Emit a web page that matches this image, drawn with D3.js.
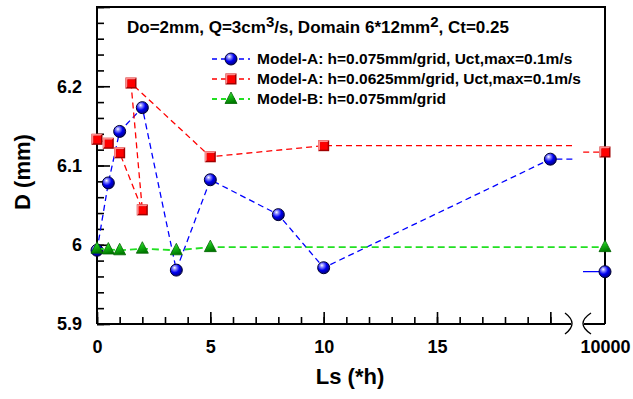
<!DOCTYPE html>
<html><head><meta charset="utf-8">
<script src="https://cdn.jsdelivr.net/npm/d3@7"></script>
<style>
  body { margin: 0; background: #fff; }
  svg { display: block; }
  text { font-family: Arial, "Liberation Sans", sans-serif; font-weight: bold; fill: #000; }
</style>
</head><body>
<svg id="chart" width="633" height="399"></svg>
<script>
// Droplet diameter D (mm) against source length Ls (in units of h)
const lsA075  = [0, 0.5, 1, 2, 3.5, 5, 8, 10, 20, 10000];
const dA075   = [5.993, 6.078, 6.143, 6.173, 5.968, 6.082, 6.038, 5.971, 6.108, 5.966];
const lsA0625 = [0, 0.5, 1, 2, 1.5, 5, 10, 10000];
const dA0625  = [6.133, 6.128, 6.116, 6.044, 6.204, 6.111, 6.125, 6.117];
const lsB075  = [0, 0.5, 1, 2, 3.5, 5, 10000];
const dB075   = [5.995, 5.994, 5.993, 5.995, 5.993, 5.997, 5.997];

const seriesNames = [
  "Model-A: h=0.075mm/grid, Uct,max=0.1m/s",
  "Model-A: h=0.0625mm/grid, Uct,max=0.1m/s",
  "Model-B: h=0.075mm/grid"
];
const xMajorTicks = [0, 5, 10, 15, 20];
const xLabelledTicks = [0, 5, 10, 15];
const xFarTicks = [10000];
const yMajorTicks = [5.9, 6.0, 6.1, 6.2, 6.3];
const yLabelledTicks = [5.9, 6.0, 6.1, 6.2];

const svg = d3.select("#chart");
const plot = { left: 97, right: 605, top: 7, bottom: 324 };

// Broken x axis: near segment 0..21, far segment around 10000
const xNear = d3.scaleLinear().domain([0, 21]).range([plot.left, 573]);
const xFar  = d3.scaleLinear().domain([9999, 10000]).range([583, plot.right]);
const xPos = v => (v <= 21 ? xNear(v) : xFar(v));
const y = d3.scaleLinear().domain([5.9, 6.3]).range([plot.bottom, plot.top]);

const defs = svg.append("defs");
defs.append("clipPath").attr("id", "clipNear").append("rect")
  .attr("x", plot.left).attr("y", 0).attr("width", 573 - plot.left).attr("height", 399);
defs.append("clipPath").attr("id", "clipFar").append("rect")
  .attr("x", 583).attr("y", 0).attr("width", 60).attr("height", 399);

const ball = defs.append("radialGradient").attr("id", "ball")
  .attr("cx", "38%").attr("cy", "35%").attr("r", "70%").attr("fx", "35%").attr("fy", "30%");
ball.append("stop").attr("offset", "0%").attr("stop-color", "#ffffff");
ball.append("stop").attr("offset", "22%").attr("stop-color", "#8c8cff");
ball.append("stop").attr("offset", "55%").attr("stop-color", "#0000f0");
ball.append("stop").attr("offset", "100%").attr("stop-color", "#000070");

const tri = defs.append("linearGradient").attr("id", "tri")
  .attr("x1", "0").attr("y1", "0").attr("x2", "0.3").attr("y2", "1");
tri.append("stop").attr("offset", "0%").attr("stop-color", "#7cf07c");
tri.append("stop").attr("offset", "45%").attr("stop-color", "#18c018");
tri.append("stop").attr("offset", "100%").attr("stop-color", "#007a00");

function marker(g, kind) {
  if (kind === "circle") {
    g.append("circle").attr("r", 6).attr("fill", "url(#ball)")
      .attr("stroke", "#000030").attr("stroke-width", 1);
  } else if (kind === "square") {
    g.append("rect").attr("x", -5.5).attr("y", -5.5).attr("width", 11).attr("height", 11)
      .attr("fill", "#a00000");
    g.append("path").attr("d", "M-5.5,-5.5H5.5L3.5,-3.5H-3.5V3.5L-5.5,5.5Z").attr("fill", "#ff8c8c");
    g.append("rect").attr("x", -3.5).attr("y", -3.5).attr("width", 7.5).attr("height", 7.5)
      .attr("fill", "#ff0000");
  } else {
    g.append("path").attr("d", "M0,-7L6,4.5H-6Z").attr("fill", "url(#tri)")
      .attr("stroke", "#006400").attr("stroke-width", 0.8);
  }
}

const series = [
  { name: seriesNames[0], xs: lsA075,  ys: dA075,  color: "#0000ff", dash: "6,4", farDash: null, width: 1.3, kind: "circle", broken: true },
  { name: seriesNames[1], xs: lsA0625, ys: dA0625, color: "#ff0000", dash: "6,4", farDash: "6,4", width: 1.3, kind: "square", broken: true },
  { name: seriesNames[2], xs: lsB075,  ys: dB075,  color: "#22e022", dash: "7,4", farDash: "7,4", width: 1.8, kind: "triangle", broken: false }
];

// Axis ticks (drawn inward)
const gx = svg.append("g").attr("transform", `translate(0,${plot.bottom})`);
gx.append("g").call(d3.axisBottom(xNear).tickValues(d3.range(0, 21)).tickSize(-7).tickFormat(""))
  .call(g => g.select(".domain").remove());
gx.append("g").call(d3.axisBottom(xNear).tickValues(xMajorTicks).tickSize(-12).tickPadding(16)
    .tickFormat(d => xLabelledTicks.includes(d) ? d3.format("d")(d) : ""))
  .call(g => g.select(".domain").remove());
gx.append("g").call(d3.axisBottom(xFar).tickValues(xFarTicks).tickSize(0).tickPadding(16)
    .tickFormat(d3.format("d")))
  .call(g => g.select(".domain").remove());

const gy = svg.append("g").attr("transform", `translate(${plot.left},0)`);
gy.append("g").call(d3.axisLeft(y).tickValues(d3.range(0, 21).map(i => 5.9 + i * 0.02)).tickSize(-7).tickFormat(""))
  .call(g => g.select(".domain").remove());
gy.append("g").call(d3.axisLeft(y).tickValues(yMajorTicks).tickSize(-13).tickPadding(15)
    .tickFormat(d => yLabelledTicks.some(t => Math.abs(t - d) < 1e-9) ? d3.format("~g")(+d.toFixed(1)) : ""))
  .call(g => g.select(".domain").remove());

svg.selectAll(".tick line").attr("stroke", "#000").attr("stroke-width", 1.6);
svg.selectAll(".tick text").style("font-size", "18px").attr("font-family", null)
  .style("font-family", "Arial, 'Liberation Sans', sans-serif").style("font-weight", "bold");

// Frame with axis break on the bottom
const frame = svg.append("g").attr("stroke", "#000").attr("stroke-width", 2).attr("fill", "none");
frame.append("path").attr("d",
  `M${plot.left},${plot.bottom}V${plot.top}H${plot.right}V${plot.bottom}`);
frame.append("line").attr("x1", plot.left).attr("x2", 571).attr("y1", plot.bottom).attr("y2", plot.bottom);
frame.append("line").attr("x1", 584).attr("x2", plot.right).attr("y1", plot.bottom).attr("y2", plot.bottom);
frame.append("path").attr("stroke-width", 1.4).attr("d", "M565,313Q579,323.5 565,334");
frame.append("path").attr("stroke-width", 1.4).attr("d", "M591,313Q575,323.5 591,334");

// Series lines and symbols
series.forEach(s => {
  const pts = s.xs.map((v, i) => [v, s.ys[i]]);
  const g = svg.append("g");
  if (s.broken) {
    [[xNear, "clipNear", s.dash], [xFar, "clipFar", s.farDash]].forEach(([sx, clip, dash]) => {
      g.append("path")
        .attr("clip-path", `url(#${clip})`)
        .attr("d", d3.line().x(d => sx(d[0])).y(d => y(d[1]))(pts))
        .attr("fill", "none").attr("stroke", s.color)
        .attr("stroke-width", s.width).attr("stroke-dasharray", dash);
    });
  } else {
    g.append("path")
      .attr("d", d3.line().x(d => xPos(d[0])).y(d => y(d[1]))(pts))
      .attr("fill", "none").attr("stroke", s.color)
      .attr("stroke-width", s.width).attr("stroke-dasharray", s.dash);
  }
  pts.forEach(d => {
    marker(g.append("g").attr("transform", `translate(${xPos(d[0])},${y(d[1])})`), s.kind);
  });
});

// Title inside the plot
const title = svg.append("text").attr("x", 127).attr("y", 33).style("font-size", "17px");
title.append("tspan").text("Do=2mm, Q=3cm");
title.append("tspan").attr("dy", -6).style("font-size", "15px").text("3");
title.append("tspan").attr("dy", 6).text("/s, Domain 6*12mm");
title.append("tspan").attr("dy", -6).style("font-size", "15px").text("2");
title.append("tspan").attr("dy", 6).text(", Ct=0.25");

// Legend
series.forEach((s, i) => {
  const cy = 59 + i * 20;
  const g = svg.append("g");
  g.append("line").attr("x1", 212).attr("x2", 250).attr("y1", cy).attr("y2", cy)
    .attr("stroke", s.color).attr("stroke-width", s.width).attr("stroke-dasharray", "5,4");
  marker(g.append("g").attr("transform", `translate(231,${cy})`), s.kind);
  g.append("text").attr("x", 257).attr("y", cy + 5).style("font-size", "15.5px").text(s.name);
});

// Axis titles
svg.append("text").attr("transform", "translate(30,172) rotate(-90)")
  .attr("text-anchor", "middle").style("font-size", "22px").text("D (mm)");
svg.append("text").attr("x", 350).attr("y", 384)
  .attr("text-anchor", "middle").style("font-size", "22px").text("Ls (*h)");
</script>
</body></html>
